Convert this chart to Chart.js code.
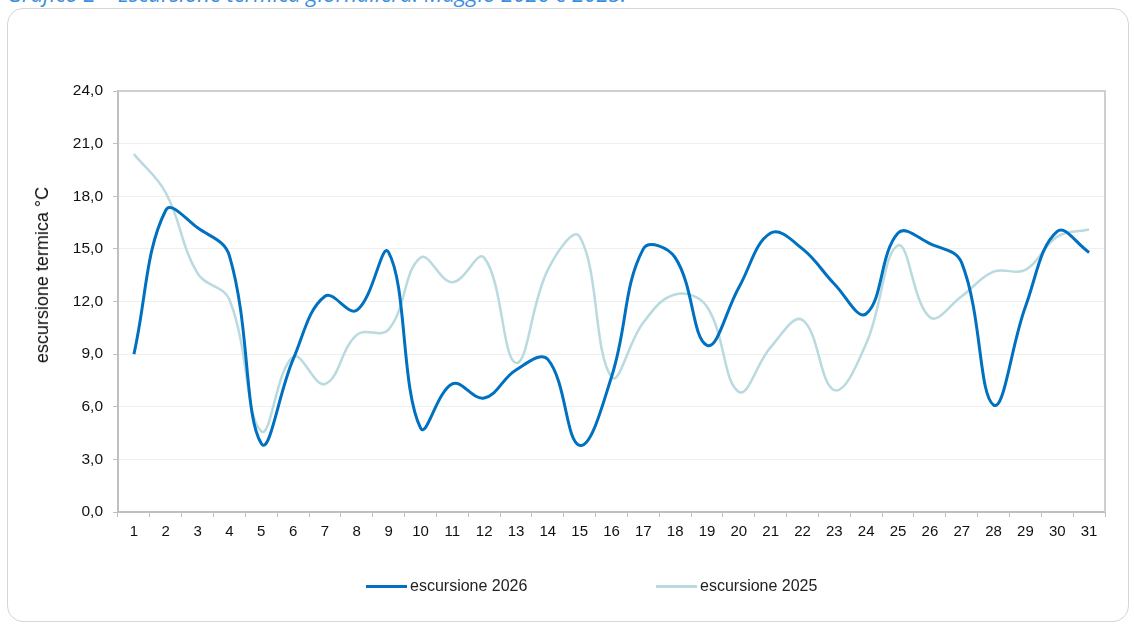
<!DOCTYPE html>
<html>
<head>
<meta charset="utf-8">
<script src="https://cdn.jsdelivr.net/npm/chart.js@4"></script>
<style>
  html, body { margin: 0; padding: 0; background: #fff; }
  body { width: 1134px; height: 624px; position: relative; overflow: hidden; font-family: "Liberation Sans", Arial, sans-serif; }
  #title { position: absolute; left: 7px; top: -22px; font-family: "Open Sans", "Liberation Sans", sans-serif; font-style: italic; font-size: 22px; line-height: 30px; color: #3a8ede; white-space: nowrap; }
  #frame { position: absolute; left: 7px; top: 8px; width: 1122px; height: 614px; border: 1px solid #d6d6d6; border-radius: 16px; box-sizing: border-box; }
  #wrap { position: absolute; left: 0; top: 0; width: 1134px; height: 624px; }
  #ytitle { position: absolute; left: 42px; top: 275px; transform: translate(-50%, -50%) rotate(-90deg); font-size: 18px; color: #111; white-space: nowrap; line-height: 20px; }
  #legend { position: absolute; top: 577px; left: 0; width: 1134px; height: 20px; font-size: 16px; color: #222; }
  .item { position: absolute; display: flex; align-items: center; white-space: nowrap; }
  .swatch { width: 41px; height: 3px; margin-right: 3px; }
</style>
</head>
<body>
<div id="title">Grafico 2 – Escursione termica giornaliera: Maggio 2026 e 2025.</div>
<div id="frame"></div>
<div id="wrap"><canvas id="c" width="1134" height="624"></canvas></div>
<div id="ytitle"></div>
<div id="legend"></div>
<script>
const days = ["1","2","3","4","5","6","7","8","9","10","11","12","13","14","15","16","17","18","19","20","21","22","23","24","25","26","27","28","29","30","31"];
const escursione2026 = [9.0,17.2,16.2,14.6,3.9,8.7,12.3,11.5,14.8,4.8,7.3,6.5,8.1,8.7,3.8,7.7,15.0,14.5,9.5,12.8,15.9,15.0,13.0,11.3,15.9,15.3,14.2,6.1,11.7,16.0,14.8];
const escursione2025 = [20.4,18.2,13.6,12.1,4.6,8.85,7.3,10.1,10.4,14.5,13.1,14.5,8.5,13.8,15.7,7.7,10.8,12.4,11.7,6.85,9.4,10.95,6.95,9.6,15.2,11.1,12.3,13.7,13.8,15.7,16.1];
const seriesNames = ["escursione 2026", "escursione 2025"];
const seriesColors = ["#0070c0", "#b9dadf"];
const yTicks = { min: 0, max: 24, step: 3 };
const yTitle = "escursione termica °C";

document.getElementById('ytitle').textContent = yTitle;

const frameBorder = {
  id: 'frameBorder',
  afterDraw(chart) {
    const {ctx, chartArea: a} = chart;
    ctx.save();
    ctx.strokeStyle = '#cfcfcf';
    ctx.lineWidth = 2;
    ctx.beginPath();
    ctx.moveTo(a.left, a.top);
    ctx.lineTo(a.right, a.top);
    ctx.lineTo(a.right, a.bottom);
    ctx.stroke();
    ctx.restore();
  }
};

new Chart(document.getElementById('c'), {
  type: 'line',
  data: {
    labels: days,
    datasets: [
      { label: seriesNames[1], data: escursione2025, borderColor: seriesColors[1], backgroundColor: seriesColors[1], borderWidth: 2.5, pointRadius: 0, tension: 0.4, order: 2 },
      { label: seriesNames[0], data: escursione2026, borderColor: seriesColors[0], backgroundColor: seriesColors[0], borderWidth: 3, pointRadius: 0, tension: 0.4, order: 1 }
    ]
  },
  options: {
    responsive: false,
    animation: false,
    layout: { padding: { left: 33, right: 29, top: 91, bottom: 82 } },
    plugins: { legend: { display: false }, tooltip: { enabled: false } },
    scales: {
      x: {
        offset: true,
        afterFit(s) { s.height = 30; },
        grid: { offset: true, drawOnChartArea: false, drawTicks: true, tickLength: 5, color: '#bfbfbf', lineWidth: 1 },
        border: { color: '#bfbfbf', width: 2 },
        ticks: { color: '#111', font: { family: 'Liberation Sans', size: 15 }, padding: 6, maxRotation: 0, autoSkip: false }
      },
      y: {
        min: yTicks.min, max: yTicks.max,
        afterFit(s) { s.width = 85; },
        grid: { color: '#efefef', lineWidth: 1, tickLength: 5, tickColor: '#bfbfbf', drawTicks: true },
        border: { color: '#bfbfbf', width: 2 },
        ticks: { stepSize: yTicks.step, color: '#111', font: { family: 'Liberation Sans', size: 15.5 }, padding: 10,
          callback: v => v.toFixed(1).replace('.', ',') },
        title: { display: false }
      }
    }
  },
  plugins: [frameBorder]
});

const leg = document.getElementById('legend');
const legLeft = [366, 656];
seriesNames.forEach((n, i) => {
  const d = document.createElement('div');
  d.className = 'item';
  d.style.left = legLeft[i] + 'px';
  d.innerHTML = '<span class="swatch" style="background:' + seriesColors[i] + '"></span><span>' + n + '</span>';
  leg.appendChild(d);
});
</script>
</body>
</html>
